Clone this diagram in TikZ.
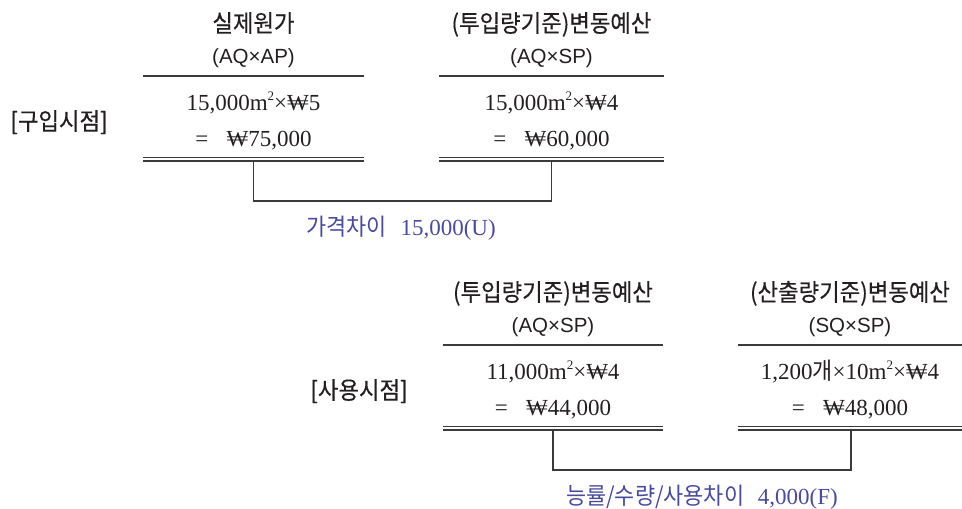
\documentclass[tikz,border=0pt]{standalone}
\usepackage{fontspec}
\setmainfont{Liberation Serif}
\newfontfamily\kr[FakeStretch=0.93,FakeBold=0.4]{Noto Sans CJK KR}
\newfontfamily\krl[FakeStretch=0.93]{Noto Sans CJK KR}
\newfontfamily\hd{Liberation Sans}
\newcommand{\won}{₩}
\newcommand{\sqm}{m\raisebox{0.42em}{\fontsize{13}{13}\selectfont 2}}
\definecolor{linegray}{RGB}{58,58,58}
\definecolor{labblue}{RGB}{72,74,160}
\definecolor{txt}{RGB}{35,31,32}
\tikzset{
  head/.style={font=\kr\fontsize{24}{28}\selectfont, anchor=base, inner sep=0pt, text=txt},
  sub/.style={font=\hd\fontsize{20.5}{24}\selectfont, anchor=base, inner sep=0pt, text=txt},
  val/.style={font=\fontsize{23}{27}\selectfont, anchor=base, inner sep=0pt, text=txt},
  lab/.style={font=\fontsize{23}{27}\selectfont, anchor=base, inner sep=0pt, text=labblue},
  rulestyle/.style={line width=1.8pt, draw=linegray},
  conn/.style={line width=1.6pt, draw=linegray}
}
\newcommand{\krs}[1]{{\krl\fontsize{23.5}{27}\selectfont #1}}
\begin{document}
\begin{tikzpicture}[x=1pt,y=-1pt]
\useasboundingbox (0,0) rectangle (962,509);
% ---------- block 1 ----------
\node[head] (sideA) at (59,130) {[구입시점]};
\node[head] (hA) at (253.5,32) {실제원가};
\node[sub] (sA) at (253.5,63) {(AQ×AP)};
\node[head] (hB) at (551.5,32) {(투입량기준)변동예산};
\node[sub] (sB) at (551.5,63) {(AQ×SP)};
\coordinate (A1) at (143,76); \coordinate (A2) at (364,76);
\coordinate (B1) at (439,76); \coordinate (B2) at (664,76);
\draw[rulestyle] (A1) -- (A2);
\draw[rulestyle] (B1) -- (B2);
\node[val] (vA1) at (253.5,110) {15,000\sqm×\won5};
\node[val] (vA2) at (253.5,146.5) {=\hspace{0.8em}\won75,000};
\node[val] (vB1) at (551.5,110) {15,000\sqm×\won4};
\node[val] (vB2) at (551.5,146.5) {=\hspace{0.8em}\won60,000};
\coordinate (A3) at (143,157.5); \coordinate (A4) at (364,157.5);
\coordinate (A5) at (143,160.8); \coordinate (A6) at (364,160.8);
\coordinate (B3) at (439,157.5); \coordinate (B4) at (664,157.5);
\coordinate (B5) at (439,160.8); \coordinate (B6) at (664,160.8);
\draw[rulestyle,line width=1.7pt] (A3) -- (A4) (A5) -- (A6);
\draw[rulestyle,line width=1.7pt] (B3) -- (B4) (B5) -- (B6);
\coordinate (Ad) at (253.5,161.5); \coordinate (Aj) at (253.5,201);
\coordinate (Bd) at (551.5,161.5); \coordinate (Bj) at (551.5,201);
\draw[conn] (Ad) -- (Aj) -- (Bj) -- (Bd);
\node[lab] (labA) at (401,235) {\krs{가격차이}\hspace{0.6em}15,000(U)};
% ---------- block 2 ----------
\node[head] (sideC) at (359,399) {[사용시점]};
\node[head] (hC) at (553,301) {(투입량기준)변동예산};
\node[sub] (sC) at (553,332) {(AQ×SP)};
\node[head] (hD) at (850,301) {(산출량기준)변동예산};
\node[sub] (sD) at (850,332) {(SQ×SP)};
\coordinate (C1) at (443,345); \coordinate (C2) at (663,345);
\coordinate (D1) at (738,345); \coordinate (D2) at (962,345);
\draw[rulestyle] (C1) -- (C2);
\draw[rulestyle] (D1) -- (D2);
\node[val] (vC1) at (553,379) {11,000\sqm×\won4};
\node[val] (vC2) at (553,415.5) {=\hspace{0.8em}\won44,000};
\node[val] (vD1) at (850,379) {1,200\krs{개}×10\sqm×\won4};
\node[val] (vD2) at (850,415.5) {=\hspace{0.8em}\won48,000};
\coordinate (C3) at (443,426.5); \coordinate (C4) at (663,426.5);
\coordinate (C5) at (443,429.8); \coordinate (C6) at (663,429.8);
\coordinate (D3) at (738,426.5); \coordinate (D4) at (962,426.5);
\coordinate (D5) at (738,429.8); \coordinate (D6) at (962,429.8);
\draw[rulestyle,line width=1.7pt] (C3) -- (C4) (C5) -- (C6);
\draw[rulestyle,line width=1.7pt] (D3) -- (D4) (D5) -- (D6);
\coordinate (Cd) at (553,430.5); \coordinate (Cj) at (553,470);
\coordinate (Dd) at (851,430.5); \coordinate (Dj) at (851,470);
\draw[conn] (Cd) -- (Cj) -- (Dj) -- (Dd);
\node[lab] (labC) at (702,504.5) {\krs{능률/수량/사용차이}\hspace{0.6em}4,000(F)};
\end{tikzpicture}
\end{document}
